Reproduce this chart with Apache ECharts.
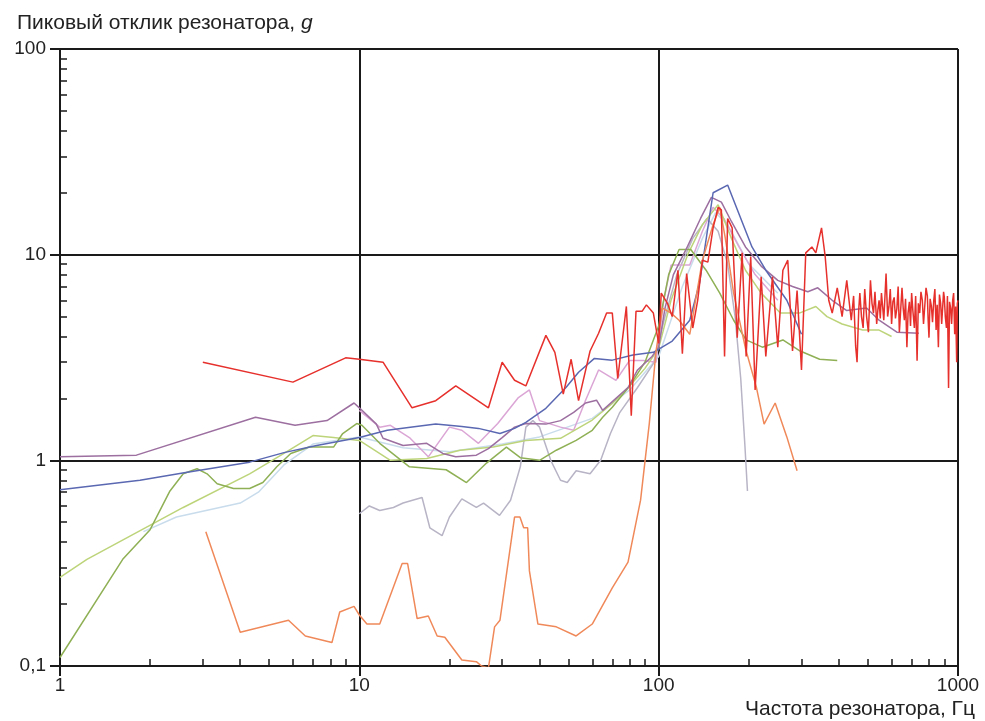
<!DOCTYPE html>
<html>
<head>
<meta charset="utf-8">
<script src="https://cdn.jsdelivr.net/npm/echarts@6/dist/echarts.min.js"></script>
<style>
html,body{margin:0;padding:0;background:#fff;}
#chart{width:985px;height:721px;}
</style>
</head>
<body>
<div id="chart"></div>
<script>
// ---- data (frequency Hz, peak response g) ----
const xMajorTicks = [1, 10, 100, 1000];
const yMajorTicks = [0.1, 1, 10, 100];
const xMinorTicks = [2,3,4,5,6,7,8,9,20,30,40,50,60,70,80,90,200,300,400,500,600,700,800,900];
const yMinorTicks = [0.2,0.3,0.4,0.5,0.6,0.7,0.8,0.9,2,3,4,5,6,7,8,9,20,30,40,50,60,70,80,90];

const yTitle = 'Пиковый отклик резонатора, ';
const yTitleItalic = 'g';
const xTitle = 'Частота резонатора, Гц';

const lightBluePts = [[1.9,0.45],[2.45,0.53],[4,0.62],[4.6,0.7],[5.6,0.95],[7,1.2],[10,1.3],[14,1.15],[20,1.1],[30,1.2],[40,1.3],[60,1.6],[80,2.2],[100,3.2],[120,7],[140,12],[155,16],[170,14],[200,9],[250,6.5]];

const grayPts = [[10,0.55],[10.8,0.6],[11.7,0.57],[13,0.59],[14,0.62],[16.2,0.66],[17.2,0.47],[18.9,0.43],[20,0.53],[22,0.65],[24.6,0.59],[26,0.62],[29.4,0.54],[32,0.64],[34.5,0.93],[36,1.45],[38,1.56],[40,1.45],[43.6,1.0],[47,0.8],[49.5,0.78],[53,0.89],[59,0.86],[64,1.0],[69,1.35],[74,1.7],[85,2.26],[96,2.95],[105,5],[115,8],[130,12],[145,15],[158,13],[170,9],[180,5],[188,2.5],[194,1.2],[198,0.71]];

const pinkPts = [[10,1.75],[11.7,1.45],[12.7,1.48],[14.7,1.29],[17,1.04],[20,1.45],[22,1.4],[25,1.21],[29,1.51],[34,2.02],[37,2.2],[40,1.56],[47,1.45],[52,1.4],[57,1.96],[63,2.75],[72,2.45],[80,3.06],[89,3.06],[98,3.0],[104,6],[110,8.9],[127,8.9],[140,13],[152,17],[165,15],[185,11],[210,8],[250,6]];

const purplePts = [[1,1.04],[1.8,1.06],[4.5,1.62],[6.1,1.48],[7.8,1.56],[9.6,1.9],[10,1.8],[11.4,1.5],[12,1.28],[14,1.18],[16.8,1.21],[19,1.08],[21,1.04],[24.6,1.06],[27,1.14],[30,1.29],[33,1.45],[36,1.51],[42,1.5],[47,1.56],[52,1.71],[57,1.9],[62,1.96],[65,1.75],[72,2.0],[79,2.26],[85,2.75],[95,3.2],[100,3.55],[105,5.5],[112,8.0],[125,11],[138,15],[150,19],[162,18],[175,14.5],[195,10.9],[220,8.8],[250,7.5],[280,7.0],[315,6.6],[340,6.9],[380,6.0],[425,5.35],[495,5.5],[545,4.8],[625,4.2],[740,4.15]];

const bluePts = [[1,0.72],[1.85,0.8],[2.6,0.87],[4.3,0.98],[5.6,1.09],[7.2,1.18],[10,1.29],[12.4,1.4],[14.8,1.45],[18,1.5],[22,1.46],[25,1.43],[29.5,1.35],[33,1.43],[36,1.53],[42,1.79],[49,2.26],[54,2.68],[61,3.13],[70,3.07],[82,3.25],[96,3.35],[111,3.8],[127,4.8],[137,7.3],[152,20],[170,21.8],[205,10.9],[228,8.4],[268,6.0],[300,4.1]];

const lightGreenPts = [[1,0.27],[1.23,0.33],[2.58,0.59],[4.3,0.86],[5.6,1.08],[7,1.32],[8.2,1.29],[10,1.25],[12.7,1.0],[16.8,1.02],[21.7,1.12],[28,1.16],[36,1.25],[47,1.28],[60,1.57],[70,1.89],[80,2.3],[90,2.8],[100,3.5],[110,6],[125,10],[140,14],[158,17.5],[175,12],[195,8.4],[220,6.5],[255,5.2],[295,5.2],[335,5.6],[365,5.0],[410,4.6],[480,4.3],[545,4.3],[600,4.0]];

const darkGreenPts = [[1,0.11],[1.62,0.33],[2.0,0.46],[2.33,0.71],[2.58,0.86],[2.87,0.91],[3.1,0.86],[3.35,0.77],[3.8,0.73],[4.3,0.73],[4.76,0.78],[5.3,0.93],[5.9,1.08],[6.8,1.16],[8.2,1.16],[8.8,1.35],[9.8,1.51],[10.2,1.48],[11.7,1.21],[14.7,0.93],[19.5,0.9],[22.8,0.78],[26.6,0.97],[31,1.16],[34.5,1.03],[40,1.0],[45.5,1.12],[53,1.25],[60,1.4],[65,1.62],[70,1.81],[80,2.3],[90,3.0],[100,4.5],[108,8],[117,10.6],[128,10.6],[144,8.4],[160,6.5],[178,4.8],[196,3.85],[222,3.55],[260,3.85],[297,3.4],[345,3.1],[395,3.06]];

const orangePts = [[3.07,0.45],[4.0,0.146],[5.8,0.167],[6.6,0.14],[8.1,0.13],[8.6,0.183],[9.6,0.195],[10,0.177],[10.6,0.16],[11.7,0.16],[13.9,0.315],[14.5,0.315],[15.6,0.17],[17,0.175],[18.2,0.14],[19.3,0.138],[22,0.107],[24.6,0.105],[25.6,0.1],[27,0.098],[28.3,0.155],[29.5,0.167],[33,0.53],[34.4,0.53],[35.4,0.47],[36.5,0.47],[37,0.29],[39.5,0.16],[45.5,0.155],[53,0.14],[60,0.16],[70,0.24],[79,0.32],[87,0.64],[93,1.5],[98,3.4],[103,5.5],[110,5.2],[117,4.8],[127,4.1],[140,9.4],[152,14],[160,17],[167,12],[178,6.5],[195,3.5],[212,2.27],[225,1.5],[245,1.9],[268,1.3],[290,0.89]];

const redPts = [[3,3.0],[6,2.4],[9,3.15],[10,3.1],[12,3.0],[15,1.8],[18,1.95],[21,2.3],[27,1.8],[30,3.0],[33,2.45],[36,2.3],[42,4.05],[45,3.35],[48,2.1],[51,3.1],[54,1.95],[59,3.4],[63,4.15],[67,5.2],[70,5.2],[73,2.5],[78,5.6],[81,1.65],[84,5.3],[88,5.3],[91,5.7],[96,5.2],[100,3.7],[102,6.5],[107,5.8],[111,5.0],[116,8.4],[120,3.3],[124,8.1],[130,4.4],[135,6.0],[140,9.4],[146,9.2],[152,13.5],[158,17],[162,16.5],[166,3.2],[170,15],[176,13.5],[183,3.95],[190,10.2],[196,3.2],[203,9.8],[210,2.2],[220,7.8],[228,3.2],[240,7.8],[250,3.55],[260,8.4],[270,9.4],[280,3.4],[290,6.7],[300,2.75],[310,10.2],[325,10.9],[335,10.2],[350,13.5],[360,9.8],[370,6.0],[380,5.2],[395,6.9],[410,5.0],[425,7.5],[440,4.8],[448,6.3],[455,3.6],[460,3.0],[466,5.4],[470,6.5],[476,5.0],[482,4.4],[488,6.8],[495,5.0],[502,4.2],[510,7.5],[516,5.8],[522,5.2],[528,6.6],[535,4.6],[540,5.4],[545,6.0],[550,4.9],[555,6.5],[560,5.6],[565,4.8],[570,6.2],[575,8.1],[582,5.0],[588,5.6],[594,6.8],[600,4.6],[606,5.9],[612,6.2],[618,4.9],[625,5.5],[631,7.0],[637,4.2],[643,5.3],[650,6.9],[656,5.5],[662,4.8],[668,6.1],[675,3.55],[681,5.2],[688,5.9],[694,4.5],[700,6.5],[707,5.3],[715,4.4],[722,6.3],[730,3.05],[737,5.8],[745,5.2],[752,6.6],[760,6.0],[767,4.6],[775,4.5],[782,6.9],[790,6.3],[795,4.8],[800,3.95],[807,6.1],[815,5.6],[822,4.7],[830,6.0],[837,6.8],[845,4.3],[852,5.7],[860,3.55],[867,6.4],[875,5.8],[882,4.6],[890,4.7],[895,6.6],[900,6.2],[907,5.0],[915,4.4],[922,6.3],[930,2.25],[937,5.9],[945,5.5],[952,4.6],[960,6.0],[967,6.5],[975,4.1],[982,5.6],[990,3.0],[995,5.8],[1000,6.0]];

const seriesDefs = [
  {name:'lightblue', pts: lightBluePts, color:'#c8dcec'},
  {name:'gray', pts: grayPts, color:'#b8b4c6'},
  {name:'pink', pts: pinkPts, color:'#dba6d5'},
  {name:'lightgreen', pts: lightGreenPts, color:'#bdd47a'},
  {name:'darkgreen', pts: darkGreenPts, color:'#8fb055'},
  {name:'purple', pts: purplePts, color:'#9c6fa0'},
  {name:'blue', pts: bluePts, color:'#5a68b2'},
  {name:'orange', pts: orangePts, color:'#f0895a'},
  {name:'red', pts: redPts, color:'#e6302c'}
];

const FONT = "'Liberation Sans', Arial, sans-serif";
const AX = '#1a1a1a';

const chart = echarts.init(document.getElementById('chart'), null, {renderer:'canvas'});
const fmt = v => String(v).replace('.', ',');

chart.setOption({
  animation:false,
  backgroundColor:'#fff',
  title:[
    {text:'{a|' + yTitle + '}{b|' + yTitleItalic + '}', left:12, top:8,
     textStyle:{fontWeight:'normal', rich:{a:{fontFamily:FONT,fontSize:21,fontWeight:'normal',color:'#222'}, b:{fontFamily:FONT,fontSize:21,fontWeight:'normal',fontStyle:'italic',color:'#222'}}}},
    {text:xTitle, right:5, top:694, textStyle:{fontFamily:FONT,fontSize:21,fontWeight:'normal',color:'#222'}}
  ],
  grid:{left:60, right:27, top:49, bottom:55, containLabel:false},
  xAxis:[
    {type:'log', logBase:10, min:1, max:1000, position:'bottom',
     axisLine:{show:true, lineStyle:{color:AX, width:2}},
     axisTick:{show:true, inside:false, length:10, lineStyle:{color:AX, width:2}},
     axisLabel:{show:true, fontFamily:FONT, fontSize:19, color:'#222', margin:10, formatter:fmt},
     splitLine:{show:true, lineStyle:{color:AX, width:2}}},
    {type:'log', logBase:10, min:1, max:1000, position:'bottom',
     axisLine:{show:false},
     axisTick:{show:true, inside:true, length:7, customValues:xMinorTicks, lineStyle:{color:AX, width:1.5}},
     axisLabel:{show:false},
     splitLine:{show:false}}
  ],
  yAxis:[
    {type:'log', logBase:10, min:0.1, max:100, position:'left',
     axisLine:{show:true, lineStyle:{color:AX, width:2}},
     axisTick:{show:true, inside:false, length:10, lineStyle:{color:AX, width:2}},
     axisLabel:{show:true, fontFamily:FONT, fontSize:19, color:'#222', margin:14, formatter:fmt},
     splitLine:{show:true, lineStyle:{color:AX, width:2}}},
    {type:'log', logBase:10, min:0.1, max:100, position:'left',
     axisLine:{show:false},
     axisTick:{show:true, inside:true, length:7, customValues:yMinorTicks, lineStyle:{color:AX, width:1.5}},
     axisLabel:{show:false},
     splitLine:{show:false}}
  ],
  series: seriesDefs.map(s => ({
    name:s.name, type:'line', xAxisIndex:0, yAxisIndex:0,
    data:s.pts, showSymbol:false, symbol:'none', clip:true,
    lineStyle:{color:s.color, width:1.5}, itemStyle:{color:s.color}
  }))
});
</script>
</body>
</html>
